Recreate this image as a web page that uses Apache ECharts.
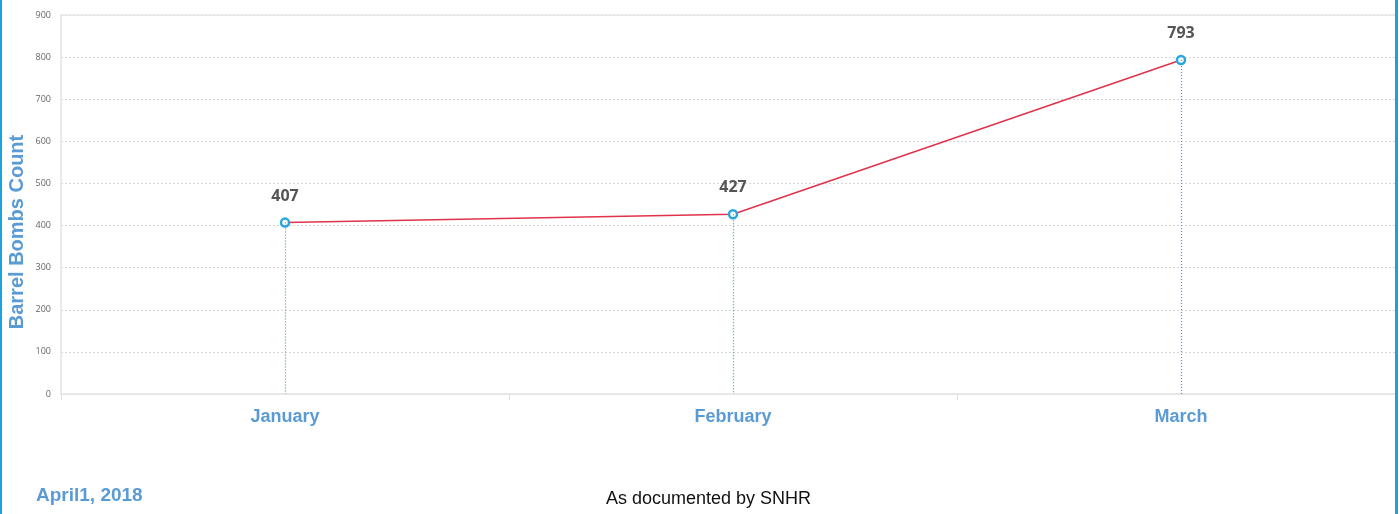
<!DOCTYPE html>
<html>
<head>
<meta charset="utf-8">
<script src="https://cdn.jsdelivr.net/npm/echarts@6/dist/echarts.min.js"></script>
<style>
html, body { margin: 0; padding: 0; background: #fff; }
#chart { width: 1400px; height: 514px; }
</style>
</head>
<body>
<div id="chart"></div>
<script>
// data
const months = ['January', 'February', 'March']
const barrelBombs = [407, 427, 793]
const yTicks = [0, 900, 100] // min, max, interval

const BLUE_TEXT = '#5b9bd5'
const POINT_BLUE = '#2aa6de'

const chart = echarts.init(document.getElementById('chart'))

// dotted drop line from every point down to the axis
const dropLines = months.map((m, i) => [
    { coord: [m, barrelBombs[i]] },
    { coord: [m, 0] }
])

const option = {
    backgroundColor: '#fff',
    animation: false,
    grid: {
        left: 61,
        top: 15,
        width: 1344,
        height: 379,
        containLabel: false,
        outerBoundsMode: 'none',
        show: true,
        borderWidth: 0
    },
    xAxis: [{
        type: 'category',
        data: months,
        boundaryGap: true,
        axisLine: { lineStyle: { color: '#e3e3e3', width: 1.5 } },
        axisTick: { show: true, length: 6, lineStyle: { color: '#e3e3e3' } },
        axisLabel: {
            color: BLUE_TEXT,
            fontFamily: 'Liberation Sans',
            fontWeight: 'bold',
            fontSize: 18,
            margin: 14
        }
    }, {
        // solid line along the top of the plot
        type: 'category',
        position: 'top',
        data: months,
        axisLine: { show: true, lineStyle: { color: '#e6e6e6', width: 1.5 } },
        axisTick: { show: false },
        axisLabel: { show: false }
    }],
    yAxis: {
        type: 'value',
        min: yTicks[0],
        max: yTicks[1],
        interval: yTicks[2],
        name: 'Barrel Bombs Count',
        nameLocation: 'middle',
        nameGap: 34,
        nameMoveOverlap: false,
        nameTextStyle: {
            color: BLUE_TEXT,
            fontFamily: 'Liberation Sans',
            fontWeight: 'bold',
            fontSize: 20,
            padding: [0, 55, 0, 0]
        },
        axisLine: { show: true, lineStyle: { color: '#e3e3e3', width: 1.5 } },
        axisTick: { show: false },
        axisLabel: {
            color: '#666',
            fontFamily: 'Open Sans',
            fontSize: 9,
            margin: 10
        },
        splitLine: {
            show: true,
            lineStyle: { color: '#d6d6d6', type: [2, 2], width: 1 }
        }
    },
    series: [{
        name: 'Barrel Bombs',
        type: 'line',
        data: barrelBombs,
        symbol: 'circle',
        symbolSize: 8,
        itemStyle: {
            color: '#fff',
            borderColor: POINT_BLUE,
            borderWidth: 2.5
        },
        lineStyle: { color: '#e0324a', width: 1.5 },
        label: {
            show: true,
            position: 'top',
            distance: 13,
            color: '#555',
            fontFamily: 'Open Sans',
            fontWeight: 'bold',
            fontSize: 16
        },
        markLine: {
            silent: true,
            symbol: 'none',
            label: { show: false },
            lineStyle: { color: '#3d98d6', type: [1, 2], width: 1.2 },
            data: dropLines
        },
        z: 3
    }],
    graphic: [
        {
            type: 'text', left: 36, top: 486,
            style: {
                text: 'April1, 2018',
                fill: BLUE_TEXT,
                font: 'bold 19px "Liberation Sans"'
            }
        },
        {
            type: 'text', left: 606, top: 490,
            style: {
                text: 'As documented by SNHR',
                fill: '#111',
                font: '18px "Liberation Sans"'
            }
        },
        // frame edges
        { type: 'rect', left: 0, top: 0, z: 100, shape: { width: 2, height: 514 }, style: { fill: '#1aa3e0' } },
        { type: 'rect', left: 1395, top: 0, z: 100, shape: { width: 5, height: 514 }, style: { fill: '#fff' } },
        { type: 'rect', left: 1395, top: 0, z: 101, shape: { width: 3, height: 514 }, style: { fill: '#1aa3e0' } }
    ]
}

chart.setOption(option)
</script>
</body>
</html>
